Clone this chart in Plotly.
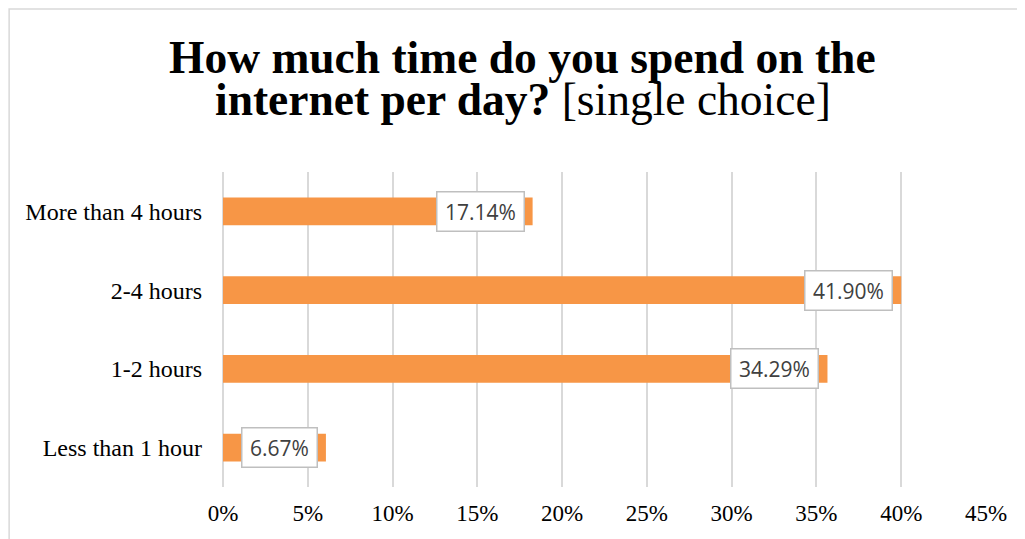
import plotly.graph_objects as go

# ---- data ----
categories = ["More than 4 hours", "2-4 hours", "1-2 hours", "Less than 1 hour"]
bar_values = [18.26, 40.0, 35.65, 6.07]          # bar lengths as drawn (percent)
label_texts = ["17.14%", "41.90%", "34.29%", "6.67%"]  # data label texts
tick_vals = [0, 5, 10, 15, 20, 25, 30, 35, 40, 45]
tick_text = ["0%", "5%", "10%", "15%", "20%", "25%", "30%", "35%", "40%", "45%"]
title_line1 = "How much time do you spend on the"
title_line2_bold = "internet per day?"
title_line2_reg = " [single choice]"

# the page body adds an 8px margin; work in page pixels and convert
OFF = 8
W, H = 1025 - OFF, 539 - OFF
L, R, T, B = 222.7 - OFF, 39, 171.5 - OFF, 51.5
pw, ph = W - L - R, H - T - B

def px_x(x):
    return (x - OFF - L) / pw

def px_y(y):
    return (H - B - (y - OFF)) / ph

BAR = "#F79646"
GRID = "#D9D9D9"
SERIF = "Liberation Serif, Times New Roman, serif"

fig = go.Figure()
fig.add_trace(go.Bar(
    x=bar_values, y=categories, orientation="h",
    marker=dict(color=BAR, line=dict(width=0)),
    hoverinfo="skip", showlegend=False,
))

annotations = []
for cat, v, t in zip(categories, bar_values, label_texts):
    annotations.append(dict(
        x=v, y=cat, xref="x", yref="y", text=t, showarrow=False,
        xanchor="right", yanchor="middle", xshift=-8,
        font=dict(family="Open Sans, sans-serif", size=21, color="#404040"),
        bgcolor="white", bordercolor="#BFBFBF", borderwidth=1.5, borderpad=5,
        width=12 * len(t) + 4, height=28,
    ))

annotations.append(dict(
    x=px_x(522), y=px_y(57), xref="paper", yref="paper",
    text="<b>" + title_line1 + "</b>", showarrow=False,
    xanchor="center", yanchor="middle",
    font=dict(family=SERIF, size=45.5, color="black"),
))
annotations.append(dict(
    x=px_x(523), y=px_y(99), xref="paper", yref="paper",
    text="<b>" + title_line2_bold + "</b>" + title_line2_reg, showarrow=False,
    xanchor="center", yanchor="middle",
    font=dict(family=SERIF, size=45.5, color="black"),
))

fig.update_layout(
    width=W, height=H,
    margin=dict(l=L, r=R, t=T, b=B, pad=0),
    paper_bgcolor="white", plot_bgcolor="white",
    bargap=0.646,
    annotations=annotations,
    shapes=[dict(type="rect", xref="paper", yref="paper",
                 x0=px_x(8.75), x1=px_x(1200), y0=px_y(700), y1=px_y(8.0),
                 line=dict(color=GRID, width=1.5), fillcolor="rgba(0,0,0,0)",
                 layer="below")],
    xaxis=dict(
        range=[0, 45], tickvals=tick_vals, ticktext=tick_text,
        showgrid=True, gridcolor=GRID, gridwidth=1.5,
        zeroline=True, zerolinecolor=GRID, zerolinewidth=1.5,
        showline=False, ticks="", ticklabelstandoff=10,
        tickfont=dict(family=SERIF, size=23, color="black"),
        fixedrange=True,
    ),
    yaxis=dict(
        autorange="reversed", showgrid=False, zeroline=False, showline=False,
        ticks="", ticklabelstandoff=20,
        tickfont=dict(family=SERIF, size=24, color="black"),
        fixedrange=True,
    ),
)

fig.write_html("out.html")
